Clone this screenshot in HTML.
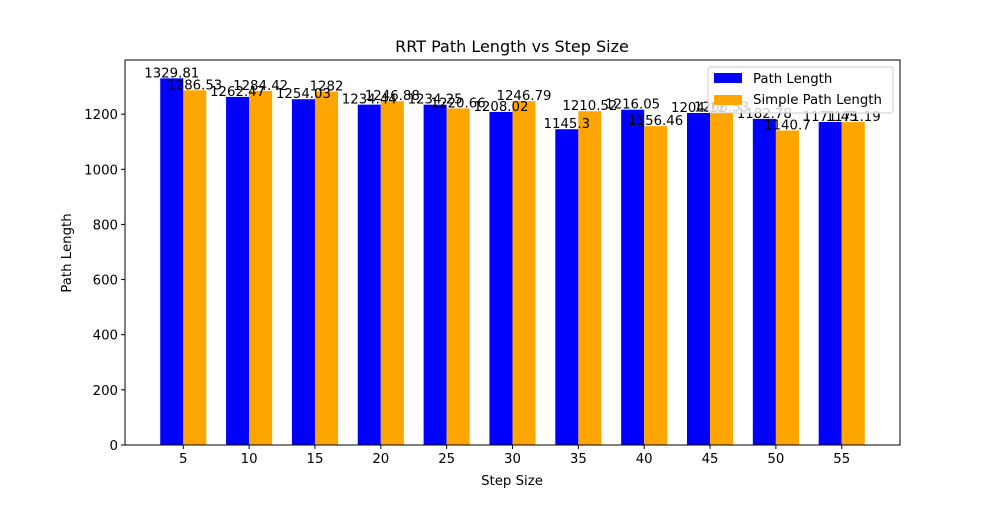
<!DOCTYPE html>
<html><head><meta charset="utf-8"><style>
body{margin:0;background:#fff}
svg text{font-family:"DejaVu Sans","Liberation Sans",sans-serif;fill:#000}
</style></head><body>
<svg id="c" width="1000" height="500"></svg>
<script>
const categories=[5,10,15,20,25,30,35,40,45,50,55];
const pathLength=[1329.81,1262.47,1254.03,1234.44,1234.25,1208.02,1145.3,1216.05,1204.12,1182.78,1171.45];
const simpleLength=[1286.53,1284.42,1282,1246.88,1220.66,1246.79,1210.52,1156.46,1206.53,1140.7,1171.19];
const yTicks=[0,200,400,600,800,1000,1200];
const L=125,R=900,T=60,B=445;
const xmin=-0.885,xmax=10.885,ymax=1396.3;
const sx=v=>L+(v-xmin)/(xmax-xmin)*(R-L);
const sy=v=>B-v/ymax*(B-T);
const svg=document.getElementById('c');const NS='http://www.w3.org/2000/svg';
function el(t,a,txt){const e=document.createElementNS(NS,t);for(const k in a)e.setAttribute(k,a[k]);if(txt!==undefined)e.textContent=txt;svg.appendChild(e);return e;}
const w=0.35;
categories.forEach((c,i)=>{
 [[pathLength,-w/2,'#0000ff','bar-path-length'],[simpleLength,w/2,'#ffa500','bar-simple-path-length']].forEach(([arr,off,col,nm])=>{
  const x0=sx(i+off-w/2),x1=sx(i+off+w/2);
  const r=el('rect',{x:x0,y:sy(arr[i]),width:x1-x0,height:B-sy(arr[i]),fill:col});
  
  
 });
});
categories.forEach((c,i)=>{
 [[pathLength,-w/2],[simpleLength,w/2]].forEach(([arr,off])=>{
  const t=el('text',{x:sx(i+off),y:sy(arr[i])-1,'text-anchor':'middle','font-size':13.3},String(arr[i]));
  
  
 });
});
const ax=el('rect',{x:L,y:T,width:R-L,height:B-T,fill:'none',stroke:'#000','stroke-width':1});


categories.forEach((c,i)=>{
 const x=sx(i);el('line',{x1:x,x2:x,y1:B,y2:B+4,stroke:'#000'});
 const t=el('text',{x:x,y:B+18,'text-anchor':'middle','font-size':13.3},String(c));
 
 
});
yTicks.forEach(v=>{
 const y=sy(v);el('line',{x1:L-4,x2:L,y1:y,y2:y,stroke:'#000'});
 const t=el('text',{x:L-7,y:y+5,'text-anchor':'end','font-size':13.3},String(v));
 
 
});
</script>
<svg width="1000" height="500" style="position:absolute;left:0;top:0">
<text x="512" y="52" text-anchor="middle" font-size="16">RRT Path Length vs Step Size</text>
<text x="512" y="485" text-anchor="middle" font-size="13.3">Step Size</text>
<text x="71" y="253" text-anchor="middle" font-size="13.3" transform="rotate(-90 71 253)">Path Length</text>
<g>
<rect x="708" y="67" width="185" height="46" rx="3" fill="#fff" fill-opacity="0.8" stroke="#ccc"/>
<rect x="714" y="73" width="28" height="10" fill="#0000ff"/>
<text x="753" y="83" font-size="13.3">Path Length</text>
<rect x="714" y="95" width="28" height="10" fill="#ffa500"/>
<text x="753" y="104" font-size="13.3">Simple Path Length</text>
</g>
</svg>
</body></html>
